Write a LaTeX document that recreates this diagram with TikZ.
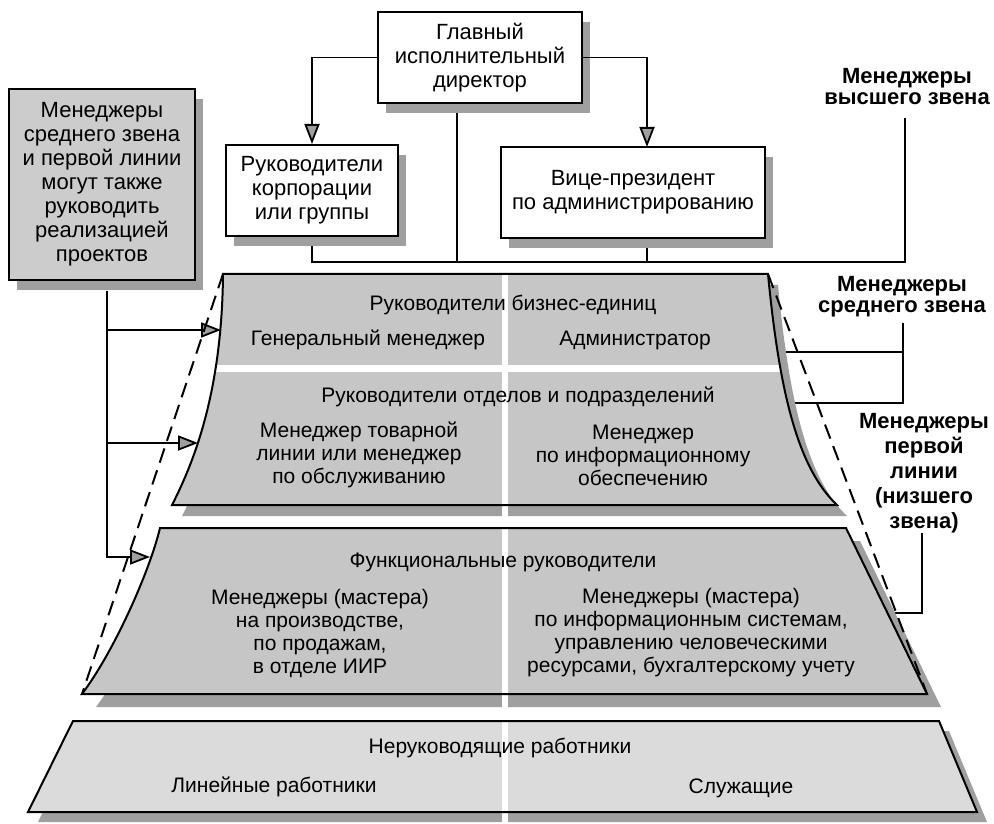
\documentclass[tikz,border=0pt]{standalone}
\usepackage{fontspec}
\setmainfont{Liberation Sans}
\usetikzlibrary{arrows.meta, positioning, shadows, backgrounds}

\newcommand{\boxfont}{\fontsize{11}{12}\selectfont}
\newcommand{\tierfont}{\fontsize{10.5}{11.5}\selectfont}
\newcommand{\levelfont}{\bfseries\fontsize{11}{10.5}\selectfont}

% outlines of the pyramid tiers
\newcommand{\uppertier}{(223,274) -- (768,274) .. controls (780,400) and (800,470) .. (837,505) -- (172,505) .. controls (195,460) and (222,390) .. (223,274) -- cycle}
\newcommand{\lowertier}{(160,528) -- (846,528) -- (927,694) -- (82,694) .. controls (115,650) and (150,570) .. (160,528) -- cycle}
\newcommand{\basetier}{(73,721) -- (939,721) -- (977,812) -- (28,812) -- cycle}

\tikzset{
  box/.style={draw, line width=1pt, fill=white, align=center, font=\boxfont, inner sep=2pt,
    drop shadow={shadow xshift=4pt, shadow yshift=-5pt, fill=gray!75, opacity=1}},
  notebox/.style={box, fill=gray!40},
  level/.style={align=center, font=\levelfont},
  tiertext/.style={align=center, font=\tierfont},
  arr/.style={line width=0.9pt, -{Triangle[length=10pt, width=7.5pt, fill=gray!75]}},
  link/.style={line width=0.6pt},
  envelope/.style={line width=1pt, dash pattern=on 7.5pt off 4pt},
}

\begin{document}
\begin{tikzpicture}[x=0.5pt, y=-0.5pt]
\useasboundingbox (0,0) rectangle (994,823);

% Top managers
\node[box, minimum width=102pt, minimum height=45.5pt] (ceo) at (480,57.5)
  {Главный\\исполнительный\\директор};
\node[box, minimum width=86pt, minimum height=45.5pt] (corp) at (312,190.5)
  {Руководители\\корпорации\\или группы};
\node[box, minimum width=132pt, minimum height=45.5pt] (vp) at (633,192.5)
  {Вице-президент\\по администрированию};
\node[notebox, minimum width=93pt, minimum height=95.5pt] (note) at (102,184.5)
  {Менеджеры\\среднего звена\\и первой линии\\могут также\\руководить\\реализацией\\проектов};

\coordinate (vpIn) at (647,147);
\draw[arr] (ceo.west) -| (corp.north);
\draw[arr] (ceo.east) -| (vpIn);

% Level labels
\node[level] (lblTop) at (907,87) {Менеджеры\\высшего звена};
\node[level] (lblMid) at (902,297) {Менеджеры\\среднего звена};
\node[level, font=\bfseries\fontsize{11}{12.5}\selectfont] (lblLow) at (924,473)
  {Менеджеры\\первой\\линии\\(низшего\\звена)};

\coordinate (ceoLeg) at (457,103);
\coordinate (vpLeg) at (647,238);
\coordinate (topLeg) at (905,118);
\coordinate (hub) at (905,262);
\begin{scope}[on background layer]
\draw[link] (topLeg) -- (hub) -- (corp.south |- hub) -- (corp.south);
\draw[link] (ceoLeg) -- (ceoLeg |- hub);
\draw[link] (vpLeg) -- (vpLeg |- hub);
\end{scope}

\coordinate (midLeg) at (903,323);
\coordinate (midA) at (775,352);
\coordinate (midB) at (778,403);
\draw[link] (midLeg) |- (midB);
\draw[link] (midA -| midLeg) -- (midA);
\coordinate (lowLeg) at (922,533);
\coordinate (lowEnd) at (885,613);
\draw[link] (lowLeg) |- (lowEnd);

% Pyramid
\fill[gray!75, shift={(10,11)}] \uppertier;
\fill[gray!75, shift={(14,13)}] \lowertier;
\fill[gray!75, shift={(10,10)}] \basetier;
\fill[gray!45] \uppertier;
\fill[gray!45] \lowertier;
\fill[gray!28] \basetier;
\begin{scope}
\clip \uppertier;
\fill[white] (150,365) rectangle (860,372);
\end{scope}
\fill[white] (502,270) rectangle (508,823);
\draw[line width=1pt] \uppertier;
\draw[line width=1pt] \lowertier;
\draw[line width=1pt] \basetier;

\node[tiertext] (unitHeads) at (513,305) {Руководители бизнес-единиц};
\node[tiertext] (genMgr) at (368,340) {Генеральный менеджер};
\node[tiertext] (admin) at (635,340) {Администратор};
\node[tiertext] (deptHeads) at (518,397) {Руководители отделов и подразделений};
\node[tiertext] (productMgr) at (359,455) {Менеджер товарной\\линии или менеджер\\по обслуживанию};
\node[tiertext] (infoMgr) at (643,455) {Менеджер\\по информационному\\обеспечению};
\node[tiertext] (funcHeads) at (503,562) {Функциональные руководители};
\node[tiertext] (prodMasters) at (320,633) {Менеджеры (мастера)\\на производстве,\\по продажам,\\в отделе ИИР};
\node[tiertext] (staffMasters) at (691,633) {Менеджеры (мастера)\\по информационным системам,\\управлению человеческими\\ресурсами, бухгалтерскому учету};
\node[tiertext] (workers) at (500,748) {Неруководящие работники};
\node[tiertext] (lineWorkers) at (274,787) {Линейные работники};
\node[tiertext] (clerks) at (741,788) {Служащие};

% Arrows from the note
\coordinate (noteLeg) at (107,291);
\coordinate (tipA) at (221,330);
\coordinate (tipB) at (198,443);
\coordinate (tipC) at (150,557);
\draw[arr] (noteLeg) |- (tipC);
\draw[arr] (noteLeg |- tipA) -- (tipA);
\draw[arr] (noteLeg |- tipB) -- (tipB);

% Pyramid envelope
\coordinate (apexL) at (223,274);
\coordinate (apexR) at (768,274);
\coordinate (footL) at (82,694);
\coordinate (footR) at (927,694);
\draw[envelope] (apexL) -- (footL);
\draw[envelope] (apexR) -- (footR);
\end{tikzpicture}
\end{document}
